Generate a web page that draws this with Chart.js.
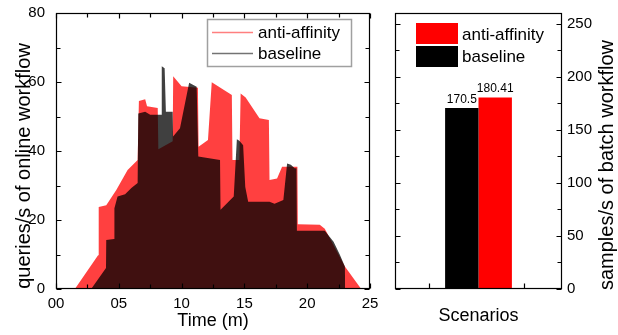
<!DOCTYPE html>
<html>
<head>
<meta charset="utf-8">
<script src="https://cdn.jsdelivr.net/npm/chart.js@4.4.0/dist/chart.umd.min.js"></script>
<style>
  body { margin: 0; background: #fff; }
  #wrap { position: relative; width: 618px; height: 335px; }
  canvas { position: absolute; top: 0; }
</style>
</head>
<body>
<div id="wrap">
  <canvas id="online" width="385" height="335" style="left:0"></canvas>
  <canvas id="batch" width="233" height="335" style="left:385px"></canvas>
</div>
<script>
// online workflow, queries/s over time (minutes)
const affinityTime = [1.5, 3.35, 3.4, 4.0, 4.8, 5.7, 6.5, 6.6, 7.1, 7.25, 8.1, 8.15, 9.29, 9.33, 10.0, 11.3, 11.35, 12.1, 12.4, 14.0, 14.05, 14.6, 14.7, 15.1, 16.2, 16.95, 17.0, 17.6, 18.0, 19.22, 19.25, 21.0, 21.4, 22.3, 23.0, 24.3];
const affinityQps = [0, 9.8, 23.8, 24.3, 28.7, 34.5, 37.4, 54.5, 55, 53, 52.5, 40.5, 42.8, 61.7, 58.8, 58.3, 41.2, 43.2, 59.9, 56.2, 37.4, 37.4, 56.7, 55.5, 49.5, 49, 31.6, 32, 35.4, 35.4, 18.8, 18.6, 17.5, 11.3, 6.5, 0];
const baselineTime = [2.8, 3.98, 4.0, 4.62, 4.65, 4.9, 5.5, 6.0, 6.5, 6.55, 7.1, 7.5, 8.4, 8.42, 8.65, 8.75, 9.29, 9.32, 9.87, 10.6, 11.2, 11.33, 13.06, 13.1, 14.15, 14.4, 14.6, 14.9, 15.07, 15.3, 17.0, 17.4, 18.1, 18.4, 18.7, 19.0, 19.15, 19.18, 21.4, 22.1, 22.6, 23.0, 23.02];
const baselineQps = [0, 6.1, 14.2, 14.5, 23.4, 26.8, 27.5, 29.3, 30.7, 50.9, 51.4, 50.5, 50.5, 64.6, 64, 51.4, 51.4, 44.2, 46.6, 59.8, 58.6, 38.4, 37.4, 23, 26.8, 43.4, 43, 41.7, 29.6, 25.3, 25.3, 24.7, 25.8, 36.4, 36, 35, 35, 16.9, 16.9, 13.7, 9.9, 6.5, 0];

const timeTicks = [0, 5, 10, 15, 20, 25];
const qpsTicks = [0, 20, 40, 60, 80];

// batch workflow, samples/s
const scenarioNames = ["baseline", "anti-affinity"];
const batchSamples = [170.5, 180.41];
const sampleTicks = [0, 50, 100, 150, 200, 250];

const FONT = '"Liberation Sans", Arial, sans-serif';
const RED_FILL = "rgba(255,0,0,0.75)";
const BLACK_FILL = "rgba(0,0,0,0.75)";

function zip(xs, ys) {
  return xs.map((x, i) => ({ x: x, y: ys[i] }));
}

// keep label overflow from pushing the plot area around
function noPad(s) {
  s.paddingTop = 0;
  s.paddingBottom = 0;
  s.paddingLeft = 0;
  s.paddingRight = 0;
}

// Origin-style box with inward ticks
function tickFrame(getX, getY) {
  return {
    id: "tickFrame",
    afterDraw(chart) {
      const ctx = chart.ctx;
      const a = chart.chartArea;
      const L = Math.round(a.left) + 0.5, R = Math.round(a.right) - 0.5;
      const T = Math.round(a.top) + 0.5, B = Math.round(a.bottom) - 0.5;
      ctx.save();
      ctx.strokeStyle = "#000";
      ctx.lineWidth = 1.2;
      ctx.strokeRect(L, T, R - L, B - T);
      ctx.beginPath();
      getX(chart).forEach(t => {
        const px = Math.round(t.px) + 0.5;
        ctx.moveTo(px, B); ctx.lineTo(px, B - t.len);
        if (t.top) { ctx.moveTo(px, T); ctx.lineTo(px, T + t.len); }
      });
      getY(chart).forEach(t => {
        const py = Math.round(t.py) + 0.5;
        ctx.moveTo(L, py); ctx.lineTo(L + t.len, py);
        ctx.moveTo(R, py); ctx.lineTo(R - t.len, py);
      });
      ctx.stroke();
      ctx.restore();
    }
  };
}

function verticalTitle(text, x, y) {
  return {
    id: "vTitle",
    afterDraw(chart) {
      const ctx = chart.ctx;
      ctx.save();
      ctx.translate(x, y);
      ctx.rotate(-Math.PI / 2);
      ctx.font = "20px " + FONT;
      ctx.fillStyle = "#000";
      ctx.textAlign = "center";
      ctx.textBaseline = "middle";
      ctx.fillText(text, 0, 0);
      ctx.restore();
    }
  };
}

const onlineLegend = {
  id: "onlineLegend",
  afterDraw(chart) {
    const ctx = chart.ctx;
    ctx.save();
    ctx.strokeStyle = "#a0a0a0";
    ctx.lineWidth = 1.5;
    ctx.strokeRect(207.5, 19.5, 144, 47);
    ctx.lineWidth = 1.5;
    ctx.strokeStyle = "rgba(255,0,0,0.5)";
    ctx.beginPath(); ctx.moveTo(212, 32.5); ctx.lineTo(253, 32.5); ctx.stroke();
    ctx.strokeStyle = "rgba(0,0,0,0.55)";
    ctx.beginPath(); ctx.moveTo(212, 53.5); ctx.lineTo(253, 53.5); ctx.stroke();
    ctx.fillStyle = "#000";
    ctx.font = "17px " + FONT;
    ctx.textBaseline = "middle";
    ctx.fillText("anti-affinity", 258, 33);
    ctx.fillText("baseline", 258, 54);
    ctx.restore();
  }
};

const batchLegend = {
  id: "batchLegend",
  afterDraw(chart) {
    const ctx = chart.ctx;
    ctx.save();
    ctx.fillStyle = "#ff0000";
    ctx.fillRect(31, 23, 42, 21);
    ctx.fillStyle = "#000";
    ctx.fillRect(31, 46, 42, 21);
    ctx.font = "17px " + FONT;
    ctx.textBaseline = "middle";
    ctx.fillText("anti-affinity", 77, 35);
    ctx.fillText("baseline", 77, 57);
    ctx.restore();
  }
};

const barValues = {
  id: "barValues",
  afterDatasetsDraw(chart) {
    const ctx = chart.ctx;
    ctx.save();
    ctx.font = "12px " + FONT;
    ctx.fillStyle = "#000";
    ctx.textAlign = "center";
    ctx.textBaseline = "alphabetic";
    chart.data.datasets.forEach((ds, i) => {
      const bar = chart.getDatasetMeta(i).data[0];
      ctx.fillText(String(ds.data[0]), bar.x, bar.y - 5);
    });
    ctx.restore();
  }
};

// left panel: online workflow
new Chart(document.getElementById("online"), {
  type: "line",
  data: {
    datasets: [
      {
        label: "anti-affinity",
        data: zip(affinityTime, affinityQps),
        backgroundColor: RED_FILL,
        borderWidth: 0,
        fill: "origin",
        pointRadius: 0,
        tension: 0,
        order: 2
      },
      {
        label: "baseline",
        data: zip(baselineTime, baselineQps),
        backgroundColor: BLACK_FILL,
        borderWidth: 0,
        fill: "origin",
        pointRadius: 0,
        tension: 0,
        order: 1
      }
    ]
  },
  options: {
    responsive: false,
    animation: false,
    devicePixelRatio: 1,
    layout: { padding: { top: 13, right: 15, left: 0, bottom: 0 } },
    plugins: { legend: { display: false }, tooltip: { enabled: false } },
    scales: {
      x: {
        type: "linear",
        min: 0,
        max: 25,
        afterFit: s => { s.height = 46; noPad(s); },
        grid: { display: false, drawTicks: false },
        border: { display: false },
        ticks: {
          stepSize: 5,
          padding: 6,
          color: "#000",
          font: { family: FONT, size: 15 },
          callback: v => String(v).padStart(2, "0")
        },
        title: {
          display: true,
          text: "Time (m)",
          color: "#000",
          font: { family: FONT, size: 18 },
          padding: { top: 0, bottom: 3 }
        }
      },
      y: {
        min: 0,
        max: 80,
        afterFit: s => { s.width = 56; noPad(s); },
        grid: { display: false, drawTicks: false },
        border: { display: false },
        ticks: {
          stepSize: 20,
          padding: 11,
          color: "#000",
          font: { family: FONT, size: 15 }
        }
      }
    }
  },
  plugins: [
    tickFrame(
      c => {
        const out = [];
        timeTicks.forEach(v => out.push({ px: c.scales.x.getPixelForValue(v), len: 5, top: true }));
        timeTicks.slice(0, -1).forEach(v => out.push({ px: c.scales.x.getPixelForValue(v + 2.5), len: 4, top: true }));
        return out;
      },
      c => {
        const out = [];
        qpsTicks.forEach(v => out.push({ py: c.scales.y.getPixelForValue(v), len: 5 }));
        qpsTicks.slice(0, -1).forEach(v => out.push({ py: c.scales.y.getPixelForValue(v + 10), len: 4 }));
        return out;
      }
    ),
    verticalTitle("queries/s of online workflow", 24, 166),
    onlineLegend
  ]
});

// right panel: batch workflow
new Chart(document.getElementById("batch"), {
  type: "bar",
  data: {
    labels: ["Scenarios"],
    datasets: [
      {
        label: scenarioNames[0],
        data: [batchSamples[0]],
        backgroundColor: "#000000",
        categoryPercentage: 0.4,
        barPercentage: 1.0
      },
      {
        label: scenarioNames[1],
        data: [batchSamples[1]],
        backgroundColor: "#ff0000",
        categoryPercentage: 0.4,
        barPercentage: 1.0
      }
    ]
  },
  options: {
    responsive: false,
    animation: false,
    devicePixelRatio: 1,
    layout: { padding: { top: 13, right: 0, left: 10, bottom: 0 } },
    plugins: { legend: { display: false }, tooltip: { enabled: false } },
    scales: {
      x: {
        afterFit: s => { s.height = 46; noPad(s); },
        grid: { display: false, drawTicks: false },
        border: { display: false },
        ticks: { display: false },
        title: {
          display: true,
          text: "Scenarios",
          color: "#000",
          font: { family: FONT, size: 18 },
          padding: { top: 0, bottom: 8 }
        }
      },
      y: {
        position: "right",
        min: 0,
        max: 260,
        afterFit: s => { s.width = 56; noPad(s); },
        grid: { display: false, drawTicks: false },
        border: { display: false },
        afterBuildTicks: s => { s.ticks = sampleTicks.map(v => ({ value: v })); },
        ticks: {
          padding: 5,
          color: "#000",
          font: { family: FONT, size: 15 }
        }
      }
    }
  },
  plugins: [
    tickFrame(
      c => {
        const a = c.chartArea;
        return [
          { px: a.left + a.width * 0.205, len: 5, top: false },
          { px: a.left + a.width * 0.775, len: 5, top: false }
        ];
      },
      c => {
        const out = [];
        sampleTicks.forEach(v => out.push({ py: c.scales.y.getPixelForValue(v), len: 5 }));
        sampleTicks.forEach(v => out.push({ py: c.scales.y.getPixelForValue(v + 25), len: 4 }));
        return out;
      }
    ),
    verticalTitle("samples/s of batch workflow", 222, 165),
    batchLegend,
    barValues
  ]
});
</script>
</body>
</html>
